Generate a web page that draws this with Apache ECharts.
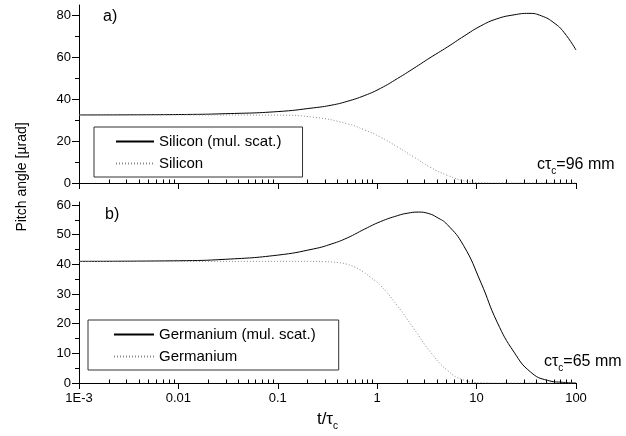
<!DOCTYPE html>
<html>
<head>
<meta charset="utf-8">
<script src="https://cdn.jsdelivr.net/npm/echarts@6/dist/echarts.min.js"></script>
<style>html,body{margin:0;padding:0;background:#fff}#c{width:626px;height:436px}</style>
</head>
<body>
<div id="c"></div>
<script>
// ---- data ----
const xTickValues = [0.001, 0.01, 0.1, 1, 10, 100];
const xTickLabels = ['1E-3', '0.01', '0.1', '1', '10', '100'];
const xMinorTicks = [0.002,0.003,0.004,0.005,0.006,0.007,0.008,0.009,
  0.02,0.03,0.04,0.05,0.06,0.07,0.08,0.09,
  0.2,0.3,0.4,0.5,0.6,0.7,0.8,0.9,
  2,3,4,5,6,7,8,9,
  20,30,40,50,60,70,80,90];
const yTopTicks = [0, 20, 40, 60, 80];
const yTopMinor = [10, 30, 50, 70];
const yBotTicks = [0, 10, 20, 30, 40, 50, 60];
const yBotMinor = [5, 15, 25, 35, 45, 55];

const seriesNames = ['Silicon (mul. scat.)', 'Silicon', 'Germanium (mul. scat.)', 'Germanium'];

const siMulT = [0.001, 0.01, 0.03, 0.1, 0.23, 0.35, 0.5, 0.75, 1.08, 1.6, 2.34, 3.4, 5.07, 7.5, 11, 16, 23.8, 33.6, 45, 60, 75.8, 100];
const siMulV = [32.5, 32.7, 33.1, 34.1, 35.9, 37.2, 39.0, 41.8, 45.2, 49.9, 54.8, 59.8, 64.9, 70.2, 75.0, 78.4, 80.3, 81.0, 79.8, 76.5, 71.9, 63.5];

const siT = [0.001, 0.01, 0.1, 0.23, 0.5, 0.75, 1.08, 1.6, 2.34, 3.4, 5.07, 8, 12, 20, 100];
const siV = [32.5, 32.5, 32.4, 31.4, 28.3, 25.3, 21.9, 17.2, 12.4, 7.6, 3.7, 0.8, 0.1, 0, 0];

const geMulT = [0.001, 0.01, 0.03, 0.1, 0.23, 0.35, 0.5, 0.75, 1.08, 1.6, 2.0, 2.6, 3.3, 4.0, 5.07, 7.4, 11, 16.1, 23.8, 34.9, 51.5, 75, 100];
const geMulV = [41, 41.2, 41.7, 43.1, 45.2, 46.9, 48.9, 51.9, 54.4, 56.4, 57.2, 57.6, 57.1, 55.8, 53.4, 46.3, 34.0, 20.5, 10.4, 3.7, 0.9, 0.2, 0];

const geT = [0.001, 0.01, 0.1, 0.2, 0.3, 0.4, 0.5, 0.6, 0.73, 0.85, 1.08, 1.59, 2.34, 3.44, 5.07, 7.4, 11, 20, 100];
const geV = [41, 41, 41, 41, 40.9, 40.6, 40.0, 39.0, 37.4, 35.7, 32.9, 26.1, 18.3, 10.4, 4.3, 1.0, 0.1, 0, 0];

const panelLabels = ['a)', 'b)'];
const ctauTexts = ['=96 mm', '=65 mm'];
const yTitle = 'Pitch angle [\u00b5rad]';

// ---- chart ----
const FF = '"Liberation Sans", Arial, Helvetica, sans-serif';
const zip = (a, b) => a.map((v, i) => [v, b[i]]);
const chart = echarts.init(document.getElementById('c'), null, {renderer: 'canvas'});
const NONE = 'rgba(0,0,0,0)';

const axisLine = {show: true, lineStyle: {color: '#000', width: 1}};
function xMain(grid, showLabels) {
  return {
    type: 'log', logBase: 10, gridIndex: grid, min: 0.001, max: 100,
    axisLine: axisLine,
    axisTick: {show: true, customValues: xTickValues, length: 6, lineStyle: {color: '#000'}},
    axisLabel: {show: showLabels, customValues: xTickValues, margin: 9, fontSize: 13, color: '#000', fontFamily: FF,
      formatter: v => xTickLabels[Math.round(Math.log10(v)) + 3]},
    splitLine: {show: false},
    name: showLabels ? '{n|t/\u03c4}{s|c}' : '',
    nameLocation: 'middle', nameGap: 28,
    nameTextStyle: {rich: {n: {fontSize: 17, fontFamily: FF, color: '#000', lineHeight: 20, verticalAlign: 'top'},
                           s: {fontSize: 10, fontFamily: FF, color: '#000', verticalAlign: 'bottom'}}}
  };
}
function xMinor(grid) {
  return {
    type: 'log', logBase: 10, gridIndex: grid, min: 0.001, max: 100,
    axisLine: {show: false},
    axisTick: {show: true, customValues: xMinorTicks, length: 3.5, lineStyle: {color: '#000'}},
    axisLabel: {show: false}, splitLine: {show: false}
  };
}
function yMain(grid, max, ticks) {
  return {
    type: 'value', gridIndex: grid, min: 0, max: max,
    axisLine: axisLine,
    axisTick: {show: true, customValues: ticks, length: 7, lineStyle: {color: '#000'}},
    axisLabel: {customValues: ticks, margin: 8, fontSize: 13, color: '#000', fontFamily: FF},
    splitLine: {show: false}
  };
}
function yMinor(grid, max, ticks) {
  return {
    type: 'value', gridIndex: grid, min: 0, max: max, position: 'left', offset: 0,
    axisLine: {show: false},
    axisTick: {show: true, customValues: ticks, length: 4, lineStyle: {color: '#000'}},
    axisLabel: {show: false}, splitLine: {show: false}
  };
}
function lineSeries(name, xi, yi, data, dotted) {
  return {
    name: name, type: 'line', xAxisIndex: xi, yAxisIndex: yi, data: data,
    symbol: 'none', showSymbol: false, smooth: 0.5, silent: true,
    lineStyle: dotted ? {color: '#8a8a8a', width: 1, type: [1, 2]} : {color: '#000', width: 1},
    itemStyle: {color: NONE, borderWidth: 0, borderColor: NONE}
  };
}
const legendText = {fontSize: 15, color: '#000', fontFamily: FF, lineHeight: 14};
const legendItemStyle = {color: NONE, borderColor: NONE, borderWidth: 0};
const subRich = {
  n: {fontSize: 16, fontFamily: FF, fill: '#000', lineHeight: 19, verticalAlign: 'top'},
  s: {fontSize: 10, fontFamily: FF, fill: '#000', verticalAlign: 'bottom'}
};

chart.setOption({
  animation: false,
  backgroundColor: '#fff',
  grid: [
    {left: 79, right: 50, top: 5, height: 178},
    {left: 79, right: 50, top: 202, height: 181}
  ],
  xAxis: [xMain(0, false), xMain(1, true), xMinor(0), xMinor(1)],
  yAxis: [yMain(0, 85, yTopTicks), yMain(1, 61, yBotTicks), yMinor(0, 85, yTopMinor), yMinor(1, 61, yBotMinor)],
  legend: [
    {data: [seriesNames[0], seriesNames[1]], orient: 'vertical', left: 94, top: 127,
     padding: [7, 21, 6, 21], itemWidth: 38, itemHeight: 14, itemGap: 7, itemStyle: legendItemStyle,
     borderColor: '#333', borderWidth: 1, backgroundColor: '#fff', textStyle: legendText, selectedMode: false},
    {data: [seriesNames[2], seriesNames[3]], orient: 'vertical', left: 88, top: 320,
     padding: [7, 23, 6, 25], itemWidth: 40, itemHeight: 14, itemGap: 7, itemStyle: legendItemStyle,
     borderColor: '#333', borderWidth: 1, backgroundColor: '#fff', textStyle: legendText, selectedMode: false}
  ],
  series: [
    lineSeries(seriesNames[0], 0, 0, zip(siMulT, siMulV), false),
    lineSeries(seriesNames[1], 0, 0, zip(siT, siV), true),
    lineSeries(seriesNames[2], 1, 1, zip(geMulT, geMulV), false),
    lineSeries(seriesNames[3], 1, 1, zip(geT, geV), true)
  ],
  graphic: [
    {type: 'text', left: 103, top: 9, style: {text: panelLabels[0], fontSize: 16, fontFamily: FF, fill: '#000'}},
    {type: 'text', left: 105, top: 207, style: {text: panelLabels[1], fontSize: 16, fontFamily: FF, fill: '#000'}},
    {type: 'text', left: 537, top: 157, style: {text: '{n|c\u03c4}{s|c}{n|' + ctauTexts[0] + '}', rich: subRich}},
    {type: 'text', left: 544, top: 354, style: {text: '{n|c\u03c4}{s|c}{n|' + ctauTexts[1] + '}', rich: subRich}},
    {type: 'text', x: 22, y: 177, rotation: Math.PI / 2,
     style: {text: yTitle, fontSize: 14, fontFamily: FF, fill: '#000', align: 'center', verticalAlign: 'middle'}}
  ]
});
</script>
</body>
</html>
